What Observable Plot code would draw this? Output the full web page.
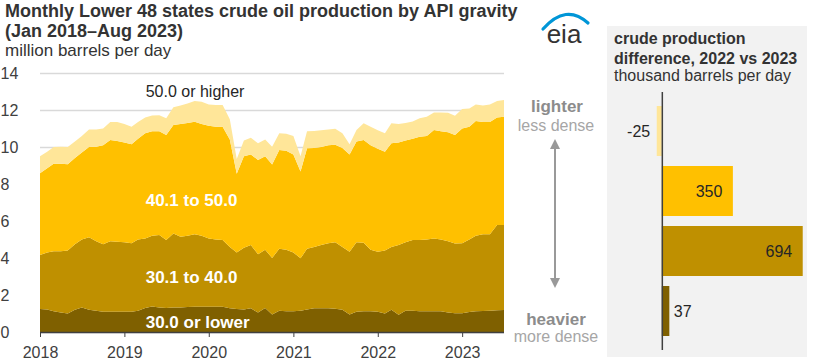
<!DOCTYPE html>
<html><head><meta charset="utf-8">
<script src="https://cdn.jsdelivr.net/npm/d3@7"></script>
<script src="https://cdn.jsdelivr.net/npm/@observablehq/plot@0.6"></script>
<style>
body{margin:0;background:#fff;font-family:"Liberation Sans",Arial,sans-serif;}
#wrap{position:relative;width:828px;height:364px;overflow:hidden;background:#fff;}
.abs{position:absolute;}
#title{left:5px;top:1px;font-size:18px;font-weight:bold;line-height:20px;color:#333;white-space:nowrap;}
#sub{left:5px;top:44px;font-size:17px;line-height:14px;color:#333;white-space:nowrap;}
#panel{left:607px;top:26px;width:200px;height:331px;background:#f2f2f2;}
#ptitle{left:7px;top:3px;font-size:16px;font-weight:bold;line-height:20px;color:#333;white-space:nowrap;}
#psub{left:7px;top:43px;font-size:16px;line-height:14px;color:#333;white-space:nowrap;}
</style></head><body>
<div id="wrap">
  <div id="panel" class="abs">
    <div id="ptitle" class="abs">crude production<br>difference, 2022 vs 2023</div>
    <div id="psub" class="abs">thousand barrels per day</div>
  </div>
  <div id="title" class="abs">Monthly Lower 48 states crude oil production by API gravity<br>(Jan 2018–Aug 2023)</div>
  <div id="sub" class="abs">million barrels per day</div>
  <div id="left" class="abs" style="left:0;top:60px;"></div>
  <div id="right" class="abs" style="left:607px;top:85px;"></div>
  <svg class="abs" style="left:0;top:0;pointer-events:none" width="828" height="364">
    <defs>
      <marker id="ah" viewBox="0 0 10 10" refX="5" refY="5" markerWidth="5" markerHeight="5" orient="auto-start-reverse">
        <path d="M0,0 L10,5 L0,10 z" fill="#999"/>
      </marker>
    </defs>
    <path d="M543,29 Q566,3 588,23" fill="none" stroke="#0096d7" stroke-width="3.2" stroke-linecap="round"/>
    <text x="564" y="43" text-anchor="middle" font-family="Liberation Sans, Arial, sans-serif" font-size="26" fill="#333">eia</text>
    <g font-family="Liberation Sans, Arial, sans-serif" text-anchor="middle">
      <text x="557" y="112" font-size="17" font-weight="bold" fill="#8c8c8c">lighter</text>
      <text x="556" y="131" font-size="16" fill="#a6a6a6">less dense</text>
      <text x="556" y="325" font-size="17" font-weight="bold" fill="#8c8c8c">heavier</text>
      <text x="556" y="342" font-size="16" fill="#a6a6a6">more dense</text>
    </g>
    <line x1="555" y1="144" x2="555" y2="283" stroke="#999" stroke-width="2" marker-start="url(#ah)" marker-end="url(#ah)"/>
  </svg>
</div>
<script>
// ---- data ----
const grades = ["30.0 or lower", "30.1 to 40.0", "40.1 to 50.0", "50.0 or higher"]; // bottom -> top
const colors = ["#7f6000", "#bf9000", "#ffc000", "#ffe699"];
// monthly, Jan 2018 .. Jul 2023 (million barrels per day)
const lower30 = [1.24,1.22,1.12,1.05,1.00,1.20,1.32,1.20,1.15,1.10,1.10,1.10,
  1.10,1.10,1.15,1.30,1.38,1.32,1.30,1.32,1.33,1.35,1.36,1.36,
  1.36,1.36,1.36,1.28,1.25,1.22,1.28,1.05,1.30,0.95,1.15,1.12,
  1.12,1.15,1.22,1.28,1.28,1.28,1.26,1.20,0.95,1.10,1.12,1.12,
  1.10,1.00,1.20,0.93,1.15,1.15,1.12,1.12,1.12,1.12,1.05,1.02,
  1.02,1.08,1.12,1.14,1.15,1.18,1.19];
const api3040 = [2.92,3.08,3.24,3.31,3.40,3.55,3.68,3.92,3.75,3.65,3.80,3.78,
  3.75,3.70,3.85,3.75,3.82,3.93,3.67,4.01,3.82,3.85,3.92,3.84,
  3.70,3.64,3.61,3.32,3.05,3.33,3.42,3.15,3.15,3.05,3.35,3.33,
  3.18,2.83,3.28,3.32,3.42,3.52,3.59,3.40,3.39,3.75,3.70,3.33,
  3.24,3.40,3.40,3.77,3.70,3.82,3.85,3.88,3.94,3.88,3.85,3.77,
  3.78,3.92,4.08,4.14,4.13,4.60,4.59];
const api4050 = [4.42,4.55,4.74,4.74,4.67,4.65,4.70,4.88,5.12,5.35,5.48,5.45,
  5.40,5.35,5.45,5.70,5.65,5.60,5.68,5.86,6.10,6.10,6.09,6.05,
  6.09,6.10,6.13,5.80,4.25,4.95,4.90,5.10,5.05,5.06,5.34,5.35,
  5.30,4.69,5.43,5.35,5.30,5.30,5.27,5.35,5.26,5.45,5.56,5.65,
  5.56,5.35,5.60,5.55,5.50,5.48,5.58,5.60,5.86,5.85,5.90,5.86,
  6.20,6.10,6.21,6.07,6.07,5.81,5.86];
const high50 = [0.92,0.90,0.90,0.92,0.93,0.90,0.90,0.95,0.93,0.90,0.97,1.02,
  1.00,0.95,0.90,0.85,0.85,0.87,0.90,0.96,1.00,1.05,1.12,1.20,
  1.15,1.17,1.17,1.10,0.80,0.85,0.90,0.90,0.90,0.96,0.90,0.92,
  1.00,0.83,0.92,0.92,0.90,0.85,0.86,0.80,0.55,0.62,0.90,1.00,
  1.00,0.99,1.08,1.00,0.95,0.93,1.00,1.04,0.95,1.02,1.05,1.04,
  1.05,0.98,0.89,0.89,0.95,0.90,0.90];
const yTicks = [0, 2, 4, 6, 8, 10, 12, 14];
const xTickYears = [2018, 2019, 2020, 2021, 2022, 2023];
// area label anchors (date, value)
const labelText = ["50.0 or higher", "40.1 to 50.0", "30.1 to 40.0", "30.0 or lower"];
const labelY = [13.03, 7.13, 2.97, 0.54];
const labelDate = "2019-04-01";
// right panel: 2022 vs 2023 difference, thousand b/d (top -> bottom)
const diffGrades = ["50.0 or higher", "40.1 to 50.0", "30.1 to 40.0", "30.0 or lower"];
const diffValues = [-25, 350, 694, 37];

// ---- build tables ----
const months = d3.utcMonths(new Date(Date.UTC(2018, 0, 1)), new Date(Date.UTC(2023, 7, 1)));
const series = [lower30, api3040, api4050, high50];
const rows = [];
months.forEach((m, i) => grades.forEach((g, k) => rows.push({date: m, grade: g, value: series[k][i]})));
const labels = labelText.map((t, i) => ({text: t, y: labelY[i], date: new Date(labelDate)}));
const diffRows = diffGrades.map((g, i) => ({grade: g, value: diffValues[i]}));
const xTicks = xTickYears.map(y => new Date(Date.UTC(y, 0, 1)));
const font = "Liberation Sans, Arial, sans-serif";

const left = Plot.plot({
  width: 514, height: 300,
  marginLeft: 40, marginRight: 10, marginTop: 13, marginBottom: 28,
  style: {fontFamily: font, fontSize: "16px", color: "#404040", background: "transparent", overflow: "visible"},
  x: {type: "utc", domain: [months[0], months[months.length - 1]]},
  y: {domain: [0, 14]},
  color: {domain: grades, range: colors},
  marks: [
    Plot.gridY(yTicks, {stroke: "#d9d9d9", strokeOpacity: 1, strokeWidth: 1.5}),
    Plot.areaY(rows, {x: "date", y: "value", fill: "grade", order: grades}),
    Plot.ruleY([0], {stroke: "#404040", strokeWidth: 1.5}),
    Plot.axisY(yTicks, {tickSize: 0, textAnchor: "start", dx: -31, label: null, fill: "#404040"}),
    Plot.axisX(xTicks, {tickSize: 5, tickPadding: 9, tickFormat: d3.utcFormat("%Y"), label: null, fill: "#404040", stroke: "#404040"}),
    Plot.text(labels.slice(0, 1), {x: "date", y: "y", text: "text", textAnchor: "start", fill: "#262626", fontSize: 16}),
    Plot.text(labels.slice(1), {x: "date", y: "y", text: "text", textAnchor: "start", fill: "#ffffff", fontSize: 17, fontWeight: "bold"})
  ]
});
document.getElementById("left").appendChild(left);

const right = Plot.plot({
  width: 201, height: 272,
  marginLeft: 0, marginRight: 0, marginTop: 7, marginBottom: 7,
  style: {fontFamily: font, fontSize: "16px", color: "#262626", background: "transparent", overflow: "visible"},
  x: {domain: [-270, 720], axis: null},
  y: {domain: diffGrades, axis: null, paddingInner: 0.17, paddingOuter: 0.214},
  color: {domain: grades, range: colors},
  marks: [
    Plot.barX(diffRows, {x: "value", y: "grade", fill: "grade"}),
    Plot.ruleX([0], {stroke: "#404040", strokeWidth: 1.5}),
    Plot.text(diffRows.filter(d => d.value < 0), {x: "value", y: "grade", text: d => String(d.value), textAnchor: "end", dx: -7, fill: "#262626"}),
    Plot.text(diffRows.filter(d => d.value >= 100), {x: "value", y: "grade", text: d => String(d.value), textAnchor: "end", dx: -11, fill: "#262626"}),
    Plot.text(diffRows.filter(d => d.value >= 0 && d.value < 100), {x: "value", y: "grade", text: d => String(d.value), textAnchor: "start", dx: 4, fill: "#262626"})
  ]
});
document.getElementById("right").appendChild(right);
</script>
</body></html>
